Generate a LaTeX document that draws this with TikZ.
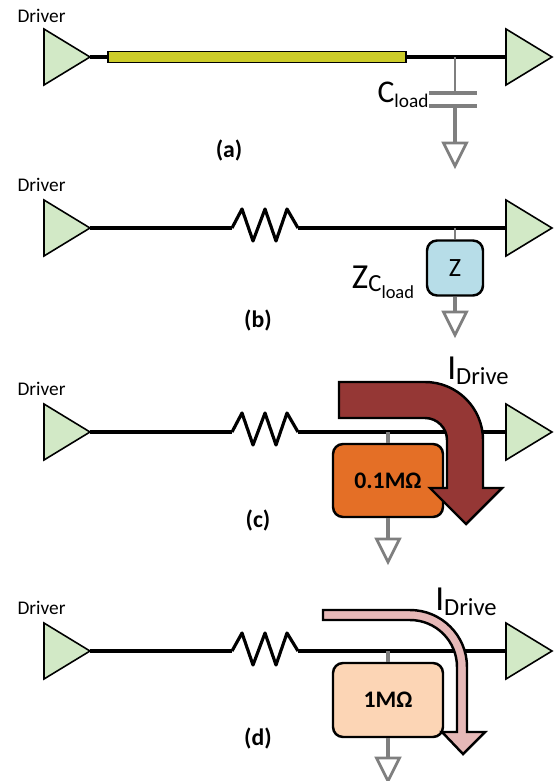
\documentclass[tikz,border=0pt]{standalone}
\usepackage{fontspec}
\setmainfont{Carlito}
\usetikzlibrary{shapes.geometric,arrows}
\definecolor{buffergreen}{HTML}{D2E9C6}
\definecolor{wireyellow}{HTML}{CCCC2A}
\definecolor{zblue}{HTML}{B7DDE8}
\definecolor{loworange}{HTML}{E46F26}
\definecolor{highpeach}{HTML}{FCD5B5}
\definecolor{arrowred}{HTML}{953735}
\definecolor{arrowpink}{HTML}{E6B8B7}
\definecolor{gndgrey}{HTML}{7F7F7F}
\newcommand{\lowsub}[3]{{\fontsize{#1}{#1}\selectfont #2}\raisebox{-0.3em}{\fontsize{11}{11}\selectfont #3}}
\tikzset{
  buffer/.style={draw=black, fill=buffergreen, line width=0.9pt, isosceles triangle,
    isosceles triangle stretches, minimum width=1.12cm, minimum height=0.92cm,
    inner sep=0pt, outer sep=0pt, anchor=lower side},
  gnd/.style={draw=gndgrey, line width=1.6pt, isosceles triangle, shape border rotate=-90,
    isosceles triangle stretches, minimum width=0.46cm, minimum height=0.46cm,
    inner sep=0pt, outer sep=0pt, anchor=lower side},
  loadbox/.style={draw=black, line width=1.4pt, rounded corners=0.2cm, inner sep=0pt, font=\fontsize{13.5}{14}\selectfont\bfseries},
  wire/.style={line width=2.2pt},
  zigzag/.style={line width=1.8pt, line join=round},
  stub/.style={gndgrey, line width=2.2pt},
  thinstub/.style={gndgrey, line width=1.5pt},
  caption/.style={font=\fontsize{13.5}{14}\selectfont\bfseries},
  drvlabel/.style={font=\fontsize{11}{12}\selectfont}
}
\begin{document}
\begin{tikzpicture}[x=0.02cm,y=-0.02cm]
\useasboundingbox (0,0) rectangle (555,781);
% (a)
\node[drvlabel] (La) at (41.5,16) {Driver};
\node[buffer] (Da) at (44,57) {};
\node[buffer] (Ra) at (506,57) {};
\node[draw=black, fill=wireyellow, line width=0.9pt, minimum width=5.96cm, minimum height=0.22cm, inner sep=0pt] (Wa) at (257,57) {};
\coordinate (Ta) at (455,57);
\draw[wire] (Da.apex) -- (Wa);
\draw[wire] (Wa) -- (Ra.lower side);
\coordinate (Ca) at (455,93);
\coordinate (Cb) at (455,106);
\draw[thinstub] (Ta) -- (Ca);
\draw[stub] (429,93) -- (477,93);
\draw[stub] (429,106) -- (477,106);
\node[gnd] (Ga) at (455,143) {};
\draw[stub] (Cb) -- (Ga.lower side);
\node (Cl) at (403,95) {\lowsub{18}{C}{load}};
\node[caption] (Ka) at (229,150) {(a)};
% (b)
\node[drvlabel] (Lb) at (41.5,185) {Driver};
\node[buffer] (Db) at (44,228) {};
\node[buffer] (Rb) at (506,228) {};
\coordinate (Sb) at (232,228);
\coordinate (Eb) at (298,228);
\draw[wire] (Db.apex) -- (Sb);
\draw[zigzag] (Sb) -- (242,209) -- (253,241) -- (265,209) -- (276,241) -- (287,209) -- (Eb);
\draw[wire] (Eb) -- (Rb.lower side);
\node[loadbox, fill=zblue, minimum width=1.12cm, minimum height=1.1cm, font=\fontsize{15}{16}\selectfont] (Zb) at (455,268) {Z};
\coordinate (Tb) at (455,228);
\draw[thinstub] (Tb) -- (Zb);
\node[gnd] (Gb) at (455,312) {};
\draw[stub] (Zb) -- (Gb.lower side);
\node (Zl) at (383,282) {{\fontsize{20}{20}\selectfont Z}\raisebox{-0.2em}{\fontsize{14}{14}\selectfont C\raisebox{-0.25em}{\fontsize{10.5}{10.5}\selectfont load}}};
\node[caption] (Kb) at (258,320) {(b)};
% (c)
\node[drvlabel] (Lc) at (41.5,389) {Driver};
\node[buffer] (Dc) at (44,432) {};
\node[buffer] (Rc) at (506,432) {};
\coordinate (Sc) at (232,432);
\coordinate (Ec) at (298,432);
\draw[wire] (Dc.apex) -- (Sc);
\draw[zigzag] (Sc) -- (242,413) -- (253,445) -- (265,413) -- (276,445) -- (287,413) -- (Ec);
\draw[wire] (Ec) -- (Rc.lower side);
\node[loadbox, fill=loworange, minimum width=2.2cm, minimum height=1.46cm] (Zc) at (388,480.5) {0.1MΩ};
\coordinate (Tc) at (388,432);
\draw[stub] (Tc) -- (Zc);
\node[gnd] (Gc) at (388,539) {};
\draw[stub] (Zc) -- (Gc.lower side);
\draw[fill=arrowred, line width=1.4pt] (339,382) -- (425,382) arc[start angle=-90, end angle=0, radius=58] -- (483,488) -- (502,488) -- (466,524) -- (430,488) -- (447,488) -- (447,440) arc[start angle=0, end angle=-90, radius=22] -- (339,418) -- cycle;
\node (Ic) at (478,371) {\lowsub{20}{I}{\fontsize{14}{14}\selectfont Drive}};
\node[caption] (Kc) at (258,520) {(c)};
% (d)
\node[drvlabel] (Ld) at (41.5,608) {Driver};
\node[buffer] (Dd) at (44,651) {};
\node[buffer] (Rd) at (506,651) {};
\coordinate (Sd) at (232,651);
\coordinate (Ed) at (298,651);
\draw[wire] (Dd.apex) -- (Sd);
\draw[zigzag] (Sd) -- (242,633) -- (253,665) -- (265,633) -- (276,665) -- (287,633) -- (Ed);
\draw[wire] (Ed) -- (Rd.lower side);
\node[loadbox, fill=highpeach, minimum width=2.2cm, minimum height=1.48cm] (Zd) at (388,700) {1MΩ};
\coordinate (Td) at (388,651);
\draw[stub] (Td) -- (Zd);
\node[gnd] (Gd) at (388,758) {};
\draw[stub] (Zd) -- (Gd.lower side);
\draw[fill=arrowpink, line width=1.4pt] (323,610) -- (410,610) arc[start angle=-90, end angle=0, radius=57] -- (467,732) -- (485,732) -- (463,754) -- (442,732) -- (457,732) -- (457,667) arc[start angle=0, end angle=-90, radius=47] -- (323,620) -- cycle;
\node (Id) at (466,602) {\lowsub{20}{I}{\fontsize{14}{14}\selectfont Drive}};
\node[caption] (Kd) at (258,738) {(d)};
\end{tikzpicture}
\end{document}
